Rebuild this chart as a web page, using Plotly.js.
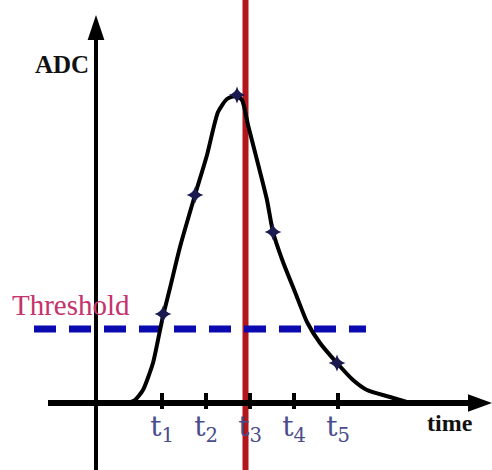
<!DOCTYPE html>
<html>
<head>
<meta charset="utf-8">
<script src="https://cdn.plot.ly/plotly-3.0.1.min.js"></script>
<style>html,body{margin:0;padding:0;background:#fff;}#chart{width:492px;height:470px;}</style>
</head>
<body>
<div id="chart"></div>
<script>
// Pulse shape (time, ADC) in arbitrary units
const pulseTime = [0.727,0.886,1.068,1.295,1.409,1.523,1.682,1.909,2.25,2.523,2.773,2.977,3.182,3.318,3.455,3.659,3.886,4.023,4.25,4.523,4.795,5.091,5.477,5.841,6.159,6.682,7.136];
const pulseADC  = [0,0.075,0.325,1.0,1.575,2.175,2.875,3.9,5.2,6.2,7.275,7.6,7.675,7.575,6.95,6.075,5.075,4.275,3.525,2.775,2.025,1.5,1.0,0.575,0.325,0.15,0];
// Sampled points
const sampleTime = [1.523,2.25,3.205,4.023,5.477];
const sampleADC  = [2.225,5.2,7.7,4.275,1.0];
// Time ticks
const tickPos    = [1.5,2.5,3.5,4.5,5.5];
const tickLabels = ['t<sub>1</sub>','t<sub>2</sub>','t<sub>3</sub>','t<sub>4</sub>','t<sub>5</sub>'];
// Threshold and peak-time marker
const thresholdValue = 1.85;
const thresholdStart = -1.409;
const thresholdEnd   = 6.136;
const peakLineTime   = 3.398;

const X0 = -2.1818, X1 = 9.0, Y0 = -1.675, Y1 = 10.075;

const traces = [
  {x: [thresholdStart, thresholdEnd], y: [thresholdValue, thresholdValue], mode: 'lines',
   line: {color: '#0a0ab0', width: 7, dash: '22px,13px'}, hoverinfo: 'skip'},
  {x: pulseTime, y: pulseADC, mode: 'lines', line: {color: '#000', width: 4, shape: 'spline', smoothing: 0.6}, hoverinfo: 'skip'},
  {x: sampleTime, y: sampleADC, mode: 'markers', marker: {symbol: 'star-diamond', size: 12, color: '#1a1a50', line: {width: 0}}, hoverinfo: 'skip'}
];

const shapes = [
  {type: 'line', xref: 'x', yref: 'y', x0: 0, x1: 0, y0: Y0, y1: 9.3, line: {color: '#000', width: 4}},
  {type: 'path', xref: 'x', yref: 'y', path: 'M -0.19 9.075 L 0.19 9.075 L 0 9.7 Z', fillcolor: '#000', line: {width: 0}},
  {type: 'line', xref: 'x', yref: 'y', x0: -1.091, x1: 8.6, y0: 0, y1: 0, line: {color: '#000', width: 6}},
  {type: 'path', xref: 'x', yref: 'y', path: 'M 8.455 0.22 L 8.455 -0.22 L 9.0 0 Z', fillcolor: '#000', line: {width: 0}},
  {type: 'line', xref: 'x', yref: 'paper', x0: peakLineTime, x1: peakLineTime, y0: 0, y1: 1, line: {color: '#b3161b', width: 6}, layer: 'below'}
];
tickPos.forEach(t => shapes.push({type: 'line', xref: 'x', yref: 'y', x0: t, x1: t, y0: -0.15, y1: 0.25, line: {color: '#000', width: 4}}));

const layout = {
  width: 492, height: 470,
  margin: {l: 0, r: 0, t: 0, b: 0},
  paper_bgcolor: '#fff', plot_bgcolor: 'rgba(0,0,0,0)',
  showlegend: false,
  xaxis: {range: [X0, X1], showgrid: false, zeroline: false, showline: false,
          tickvals: tickPos, ticktext: tickLabels, ticks: '',
          anchor: 'free', position: 67/470, ticklabelstandoff: 4,
          tickfont: {family: 'DejaVu Serif', size: 28, color: '#4a4c8c'}},
  yaxis: {range: [Y0, Y1], showgrid: false, zeroline: false, showline: false, showticklabels: false, ticks: ''},
  shapes: shapes,
  annotations: [
    {x: -0.773, y: 8.475, xref: 'x', yref: 'y', text: '<b>ADC</b>', showarrow: false, font: {family: 'Liberation Serif', size: 25, color: '#111'}},
    {x: 8.045, y: -0.5, xref: 'x', yref: 'y', text: '<b>time</b>', showarrow: false, font: {family: 'serif', size: 24, color: '#111'}},
    {x: -0.568, y: 2.45, xref: 'x', yref: 'y', text: 'Threshold', showarrow: false, font: {family: 'Times New Roman', size: 29, color: '#c4336c'}}
  ]
};

Plotly.newPlot('chart', traces, layout, {displayModeBar: false, staticPlot: true});
</script>
</body>
</html>
